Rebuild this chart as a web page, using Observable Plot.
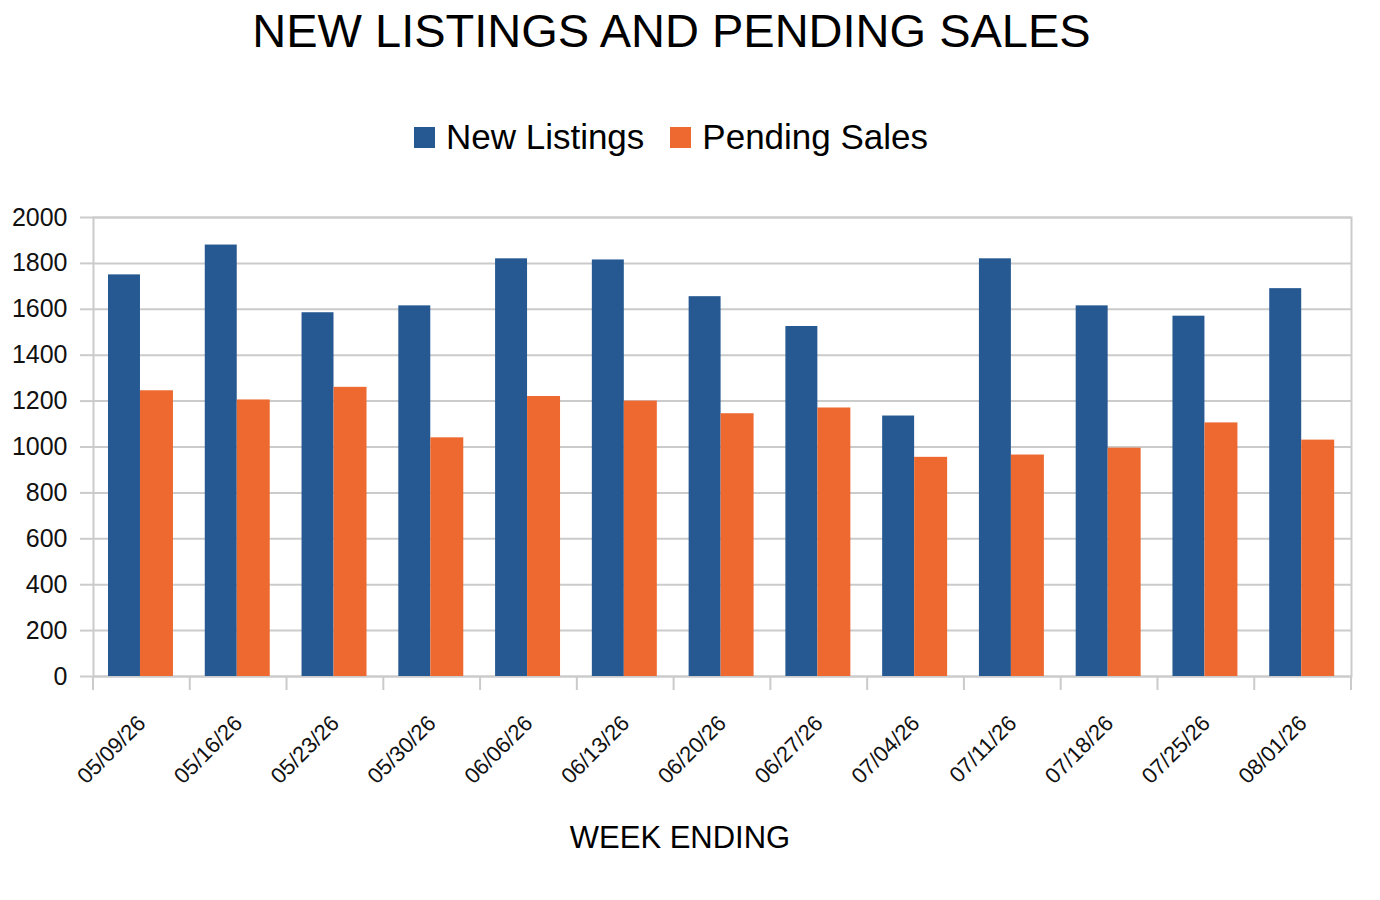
<!DOCTYPE html>
<html>
<head>
<meta charset="utf-8">
<script src="https://cdn.jsdelivr.net/npm/d3@7"></script>
<script src="https://cdn.jsdelivr.net/npm/@observablehq/plot@0.6"></script>
<style>
  html, body { margin: 0; padding: 0; background: #fff; }
  body { width: 1380px; height: 900px; overflow: hidden; font-family: "Liberation Sans", Arial, sans-serif; color: #000; }
  #title { height: 62px; line-height: 62px; font-size: 47px; text-align: center; padding-right: 37px; white-space: nowrap; }
  #legend { box-sizing: border-box; height: 118px; padding-top: 55px; padding-right: 38px; display: flex; justify-content: center; align-items: flex-start; }
  #legend .item { display: flex; align-items: center; height: 40px; font-size: 35px; }
  #legend .sw { width: 21px; height: 21px; margin-right: 11px; }
  #legend .item + .item { margin-left: 26px; }
  #xlabel { height: 95px; line-height: 95px; font-size: 31px; text-align: center; padding-right: 20px; }
  svg { display: block; }
</style>
</head>
<body>
<div id="title">NEW LISTINGS AND PENDING SALES</div>
<div id="legend"></div>
<div id="chart"></div>
<div id="xlabel">WEEK ENDING</div>
<script>
const weeks = ["05/09/26","05/16/26","05/23/26","05/30/26","06/06/26","06/13/26","06/20/26","06/27/26","07/04/26","07/11/26","07/18/26","07/25/26","08/01/26"];
const newListings = [1750, 1880, 1585, 1615, 1820, 1815, 1655, 1525, 1135, 1820, 1615, 1570, 1690];
const pendingSales = [1245, 1205, 1260, 1040, 1220, 1200, 1145, 1170, 955, 965, 995, 1105, 1030];
const seriesNames = ["New Listings", "Pending Sales"];
const seriesColors = ["#265992", "#ed6930"];
const yTicks = [0, 200, 400, 600, 800, 1000, 1200, 1400, 1600, 1800, 2000];

const gridColor = "#cbcbcb";

const nlData = weeks.map((w, i) => ({week: w, value: newListings[i]}));
const psData = weeks.map((w, i) => ({week: w, value: pendingSales[i]}));

// legend
const legend = document.getElementById("legend");
seriesNames.forEach((name, i) => {
  const item = document.createElement("div");
  item.className = "item";
  const sw = document.createElement("span");
  sw.className = "sw";
  sw.style.background = seriesColors[i];
  const t = document.createElement("span");
  t.textContent = name;
  item.appendChild(sw);
  item.appendChild(t);
  legend.appendChild(item);
});

const plot = Plot.plot({
  width: 1380,
  height: 610,
  marginLeft: 93,
  marginRight: 29,
  marginTop: 37,
  marginBottom: 114,
  style: {fontFamily: "'Liberation Sans', Arial, sans-serif", color: "#000", background: "#fff", overflow: "visible"},
  x: {domain: weeks, padding: 0, round: false, label: null},
  y: {domain: [0, 2000], label: null},
  marks: [
    Plot.gridY(yTicks, {stroke: gridColor, strokeOpacity: 1, strokeWidth: 2}),
    Plot.frame({stroke: gridColor, strokeWidth: 2}),
    Plot.barY(nlData, {x: "week", y: "value", fill: seriesColors[0], insetLeft: 15, insetRight: 49.8}),
    Plot.barY(psData, {x: "week", y: "value", fill: seriesColors[1], insetLeft: 47, insetRight: 16.8}),
    Plot.axisY(yTicks, {tickSize: 13, tickPadding: 13, fontSize: 25, stroke: gridColor, strokeWidth: 2, fill: "#111", tickFormat: d => String(d)}),
    Plot.axisX({tickSize: 0, tickPadding: 43, tickRotate: -45, fontSize: 22, fill: "#111", stroke: "none"})
  ]
});
document.getElementById("chart").appendChild(plot);

// category boundary ticks below the baseline, placed with the plot's own scales
const xs = plot.scale("x");
const ys = plot.scale("y");
const y0 = ys.apply(0);
const bounds = weeks.map(w => xs.apply(w));
bounds.push(xs.apply(weeks[weeks.length - 1]) + xs.bandwidth);
d3.select(plot).append("g")
  .attr("stroke", gridColor)
  .attr("stroke-width", 2)
  .selectAll("line")
  .data(bounds)
  .join("line")
  .attr("x1", d => d).attr("x2", d => d)
  .attr("y1", y0).attr("y2", y0 + 14);
</script>
</body>
</html>
